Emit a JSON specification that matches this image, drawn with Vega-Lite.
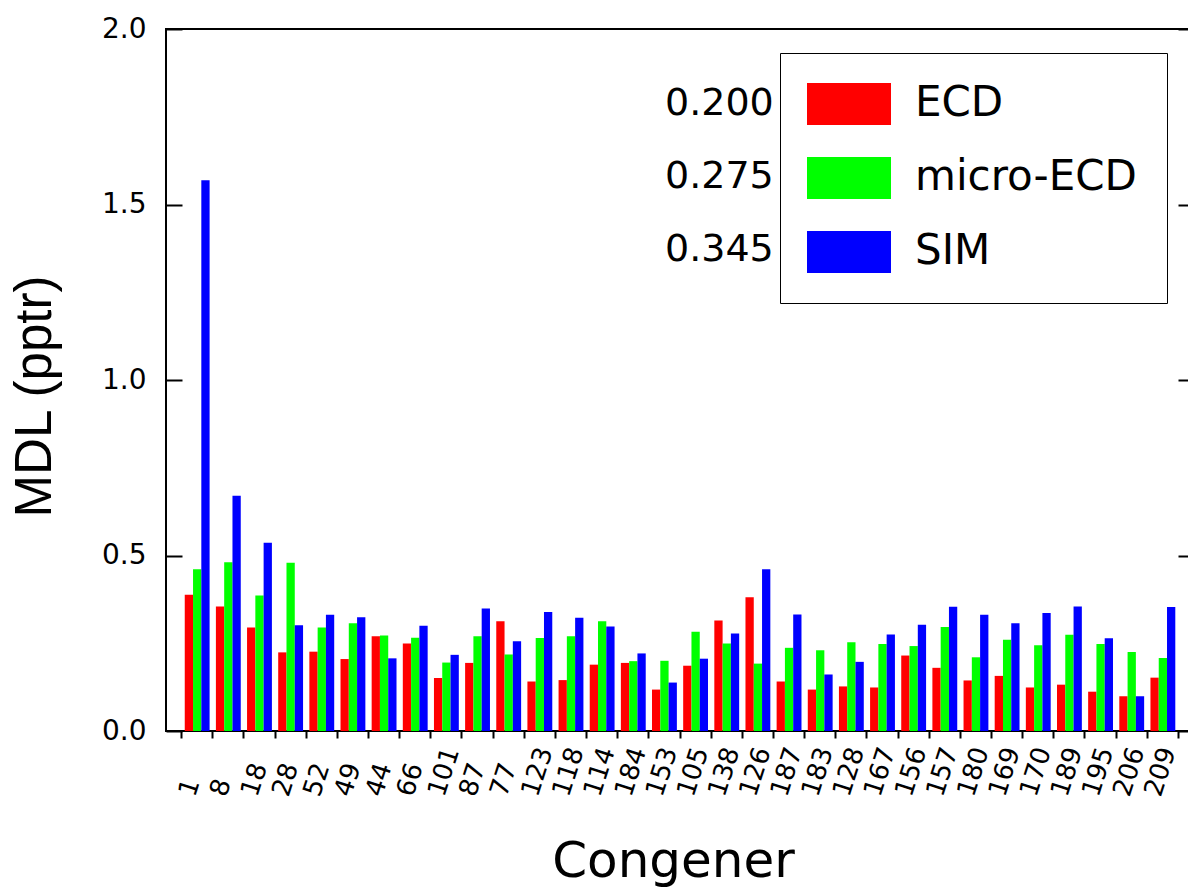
{
  "$schema": "https://vega.github.io/schema/vega-lite/v6.json",
  "width": 1028,
  "height": 702,
  "autosize": "none",
  "padding": {"left": 166, "top": 29, "right": 0, "bottom": 159},
  "background": "white",
  "config": {
    "view": {"stroke": "black", "strokeWidth": 2},
    "axis": {"grid": false, "labelColor": "black", "titleColor": "black", "titleFontWeight": "normal"}
  },
  "datasets": {
    "mdl": [
      {"congener": "1", "ECD": 0.388, "micro-ECD": 0.461, "SIM": 1.569},
      {"congener": "8", "ECD": 0.355, "micro-ECD": 0.481, "SIM": 0.670},
      {"congener": "18", "ECD": 0.295, "micro-ECD": 0.386, "SIM": 0.536},
      {"congener": "28", "ECD": 0.224, "micro-ECD": 0.479, "SIM": 0.301},
      {"congener": "52", "ECD": 0.226, "micro-ECD": 0.295, "SIM": 0.331},
      {"congener": "49", "ECD": 0.205, "micro-ECD": 0.307, "SIM": 0.324},
      {"congener": "44", "ECD": 0.270, "micro-ECD": 0.272, "SIM": 0.207},
      {"congener": "66", "ECD": 0.249, "micro-ECD": 0.266, "SIM": 0.300},
      {"congener": "101", "ECD": 0.151, "micro-ECD": 0.195, "SIM": 0.217},
      {"congener": "87", "ECD": 0.194, "micro-ECD": 0.270, "SIM": 0.349},
      {"congener": "77", "ECD": 0.313, "micro-ECD": 0.218, "SIM": 0.256},
      {"congener": "123", "ECD": 0.141, "micro-ECD": 0.265, "SIM": 0.339},
      {"congener": "118", "ECD": 0.145, "micro-ECD": 0.270, "SIM": 0.323},
      {"congener": "114", "ECD": 0.189, "micro-ECD": 0.313, "SIM": 0.298},
      {"congener": "184", "ECD": 0.194, "micro-ECD": 0.199, "SIM": 0.221},
      {"congener": "153", "ECD": 0.118, "micro-ECD": 0.200, "SIM": 0.138},
      {"congener": "105", "ECD": 0.186, "micro-ECD": 0.283, "SIM": 0.206},
      {"congener": "138", "ECD": 0.315, "micro-ECD": 0.249, "SIM": 0.278},
      {"congener": "126", "ECD": 0.381, "micro-ECD": 0.192, "SIM": 0.461},
      {"congener": "187", "ECD": 0.141, "micro-ECD": 0.237, "SIM": 0.332},
      {"congener": "183", "ECD": 0.118, "micro-ECD": 0.230, "SIM": 0.161},
      {"congener": "128", "ECD": 0.127, "micro-ECD": 0.253, "SIM": 0.197},
      {"congener": "167", "ECD": 0.124, "micro-ECD": 0.248, "SIM": 0.275},
      {"congener": "156", "ECD": 0.215, "micro-ECD": 0.242, "SIM": 0.303},
      {"congener": "157", "ECD": 0.180, "micro-ECD": 0.296, "SIM": 0.354},
      {"congener": "180", "ECD": 0.144, "micro-ECD": 0.210, "SIM": 0.331},
      {"congener": "169", "ECD": 0.157, "micro-ECD": 0.260, "SIM": 0.307},
      {"congener": "170", "ECD": 0.124, "micro-ECD": 0.244, "SIM": 0.336},
      {"congener": "189", "ECD": 0.132, "micro-ECD": 0.274, "SIM": 0.355},
      {"congener": "195", "ECD": 0.112, "micro-ECD": 0.248, "SIM": 0.264},
      {"congener": "206", "ECD": 0.099, "micro-ECD": 0.225, "SIM": 0.099},
      {"congener": "209", "ECD": 0.152, "micro-ECD": 0.208, "SIM": 0.353}
    ],
    "means": [
      {"series": "ECD", "mean": "0.200"},
      {"series": "micro-ECD", "mean": "0.275"},
      {"series": "SIM", "mean": "0.345"}
    ]
  },
  "layer": [
    {
      "data": {"name": "mdl"},
      "transform": [
        {"fold": ["ECD", "micro-ECD", "SIM"], "as": ["series", "value"]}
      ],
      "mark": {"type": "bar"},
      "encoding": {
        "x": {
          "field": "congener",
          "type": "nominal",
          "sort": null,
          "scale": {
            "domain": ["1", "8", "18", "28", "52", "49", "44", "66", "101", "87", "77", "123", "118", "114", "184", "153", "105", "138", "126", "187", "183", "128", "167", "156", "157", "180", "169", "170", "189", "195", "206", "209", ""],
            "range": [15.6, 1043.6],
            "paddingInner": 0,
            "paddingOuter": 0
          },
          "axis": {
            "title": "Congener",
            "titleFont": "DejaVu Sans",
            "titleFontSize": 50,
            "titleX": 507,
            "titleY": 145,
            "titleAlign": "center",
            "titleBaseline": "alphabetic",
            "domain": false,
            "bandPosition": 0,
            "tickSize": 7,
            "tickWidth": 2,
            "tickColor": "black",
            "labelAngle": -72,
            "labelAlign": "left",
            "labelBaseline": "middle",
            "labelFont": "DejaVu Sans",
            "labelFontSize": 26,
            "labelPadding": 57,
            "labelOffset": -10,
            "labelOverlap": false
          }
        },
        "xOffset": {
          "field": "series",
          "type": "nominal",
          "sort": ["ECD", "micro-ECD", "SIM"],
          "scale": {"paddingInner": 0, "paddingOuter": 0.38}
        },
        "y": {
          "field": "value",
          "type": "quantitative",
          "scale": {"domain": [0, 2], "nice": false},
          "axis": {
            "title": "MDL (pptr)",
            "titleFont": "Liberation Sans",
            "titleFontSize": 51,
            "titleAngle": -90,
            "titleX": -116,
            "titleY": 367,
            "titleAlign": "center",
            "titleBaseline": "alphabetic",
            "domain": false,
            "values": [0, 0.5, 1, 1.5, 2],
            "format": ".1f",
            "tickSize": -16,
            "tickWidth": 2,
            "tickColor": "black",
            "labelFont": "DejaVu Sans",
            "labelFontSize": 28,
            "labelPadding": 36
          }
        },
        "color": {
          "field": "series",
          "type": "nominal",
          "scale": {"domain": ["ECD", "micro-ECD", "SIM"], "range": ["#FF0000", "#00FF00", "#0000FF"]},
          "legend": {
            "title": null,
            "orient": "none",
            "legendX": 614,
            "legendY": 24,
            "direction": "vertical",
            "strokeColor": "black",
            "padding": 30,
            "symbolType": "M-1,-1H1V0H-1Z",
            "symbolSize": 7056,
            "symbolOffset": -3,
            "symbolStrokeWidth": 0,
            "symbolOpacity": 1,
            "labelFont": "DejaVu Sans",
            "labelFontSize": 42,
            "labelColor": "black",
            "labelBaseline": "bottom",
            "labelOffset": 24,
            "labelLimit": 400,
            "rowPadding": 31
          }
        }
      }
    },
    {
      "data": {"name": "means"},
      "mark": {"type": "point", "opacity": 0},
      "encoding": {
        "shape": {
          "field": "mean",
          "type": "nominal",
          "legend": {
            "title": null,
            "orient": "none",
            "legendX": 461,
            "legendY": 56,
            "direction": "vertical",
            "padding": 0,
            "symbolSize": 1,
            "symbolOpacity": 0,
            "symbolStrokeWidth": 0,
            "labelOffset": 0,
            "labelFont": "DejaVu Sans",
            "labelFontSize": 38,
            "labelColor": "black",
            "rowPadding": 35
          }
        }
      }
    },
    {
      "data": {"values": [{}]},
      "mark": {"type": "rule", "opacity": 0},
      "encoding": {
        "y": {
          "datum": 0,
          "type": "quantitative",
          "axis": {
            "orient": "right",
            "title": null,
            "labels": false,
            "domain": false,
            "values": [0, 0.5, 1, 1.5, 2],
            "tickSize": -16,
            "tickWidth": 2,
            "tickColor": "black"
          }
        }
      }
    }
  ],
  "resolve": {"axis": {"y": "independent"}}
}
